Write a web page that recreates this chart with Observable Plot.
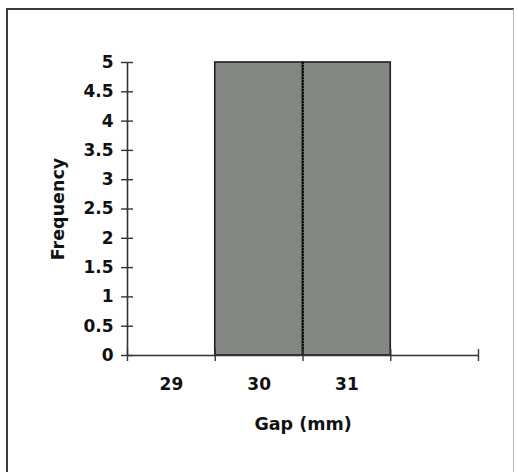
<!DOCTYPE html>
<html>
<head>
<meta charset="utf-8">
<script src="https://cdn.jsdelivr.net/npm/d3@7"></script>
<script src="https://cdn.jsdelivr.net/npm/@observablehq/plot@0.6"></script>
<style>
  html, body { margin: 0; padding: 0; background: #fff; }
  #wrap { position: relative; width: 518px; height: 472px; overflow: hidden; }
  #border { position: absolute; left: 6px; top: 8px; width: 505px; height: 480px;
            border-left: 2px solid #3a3a3a; border-top: 2px solid #3a3a3a; border-right: 1px solid #b8b8b8; }
</style>
</head>
<body>
<div id="wrap"><div id="border"></div></div>
<script>
// Data
const categories = [29, 30, 31, null];          // bin centres (4th bin has no label)
const binStarts = [28.5, 29.5, 30.5, 31.5];
const binEnds   = [29.5, 30.5, 31.5, 32.5];
const frequency = [0, 5, 5, 0];
const xTickLabels = [29, 30, 31];
const xBoundaries = [28.5, 29.5, 30.5, 31.5, 32.5];
const yTicks = [0, 0.5, 1, 1.5, 2, 2.5, 3, 3.5, 4, 4.5, 5];

const bins = categories.map((c, i) => ({c, x1: binStarts[i], x2: binEnds[i], f: frequency[i]}));

const FONT = "'DejaVu Sans', Verdana, sans-serif";

const chart = Plot.plot({
  width: 518,
  height: 472,
  marginLeft: 127,
  marginRight: 40,
  marginTop: 62,
  marginBottom: 117,
  style: {fontFamily: FONT, fontWeight: "bold", color: "#111", background: "transparent"},
  x: {domain: [28.5, 32.5], axis: null},
  y: {domain: [0, 5], axis: null},
  marks: [
    Plot.rectY(bins.filter(d => d.f > 0), {x1: "x1", x2: "x2", y1: 0, y2: "f", fill: "#838982", stroke: "#1e1e1e", strokeWidth: 1.6}),
    Plot.ruleX([30.5], {y1: 0, y2: 5, stroke: "#111", strokeWidth: 2, strokeDasharray: "2,1"}),
    Plot.ruleY([0], {stroke: "#333", strokeWidth: 1.6}),
    Plot.ruleX([28.5], {y1: 0, y2: 5, stroke: "#333", strokeWidth: 1.6}),
    Plot.axisX({ticks: xBoundaries, tickSize: 12, dy: -6, tickFormat: () => "", stroke: "#333", strokeWidth: 1.4}),
    Plot.axisX({ticks: xTickLabels, tickSize: 0, tickPadding: 22, fontSize: 17, fontWeight: "bold", fill: "#111", label: null, tickFormat: d => String(d)}),
    Plot.axisY({ticks: yTicks, tickSize: 12, dx: 6, tickPadding: 8, fontSize: 17, fontWeight: "bold", fill: "#111", stroke: "#333", strokeWidth: 1.4, label: null, tickFormat: d => String(d)}),
    Plot.text(["Gap (mm)"], {frameAnchor: "bottom", dy: 62, lineAnchor: "top", fontSize: 17.5, fontWeight: "bold", fill: "#111"}),
    Plot.text(["Frequency"], {frameAnchor: "left", dx: -69, rotate: -90, textAnchor: "middle", lineAnchor: "middle", fontSize: 17.5, fontWeight: "bold", fill: "#111"})
  ]
});
chart.style.position = "absolute";
chart.style.left = "0";
chart.style.top = "0";
document.getElementById("wrap").appendChild(chart);
</script>
</body>
</html>
